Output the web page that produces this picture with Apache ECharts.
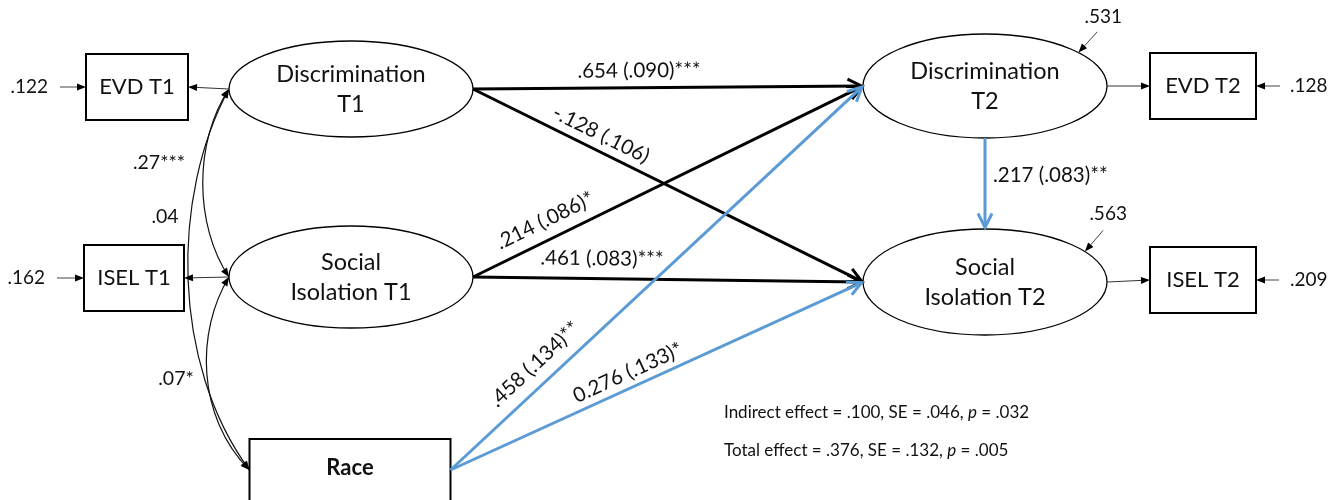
<!DOCTYPE html>
<html>
<head>
<meta charset="utf-8">
<title>Path model</title>
<script src="https://cdn.jsdelivr.net/npm/echarts@6/dist/echarts.min.js"></script>
<style>
  html, body { margin: 0; padding: 0; background: #fff; }
  #chart { width: 1343px; height: 500px; }
</style>
</head>
<body>
<div id="chart"></div>
<script>
// ---- Model variables ----
const nodeIds = ['evd1', 'disc1', 'isel1', 'si1', 'race', 'disc2', 'si2', 'evd2', 'isel2'];
const nodeLabels = ['EVD T1', 'Discrimination\nT1', 'ISEL T1', 'Social\nIsolation T1', 'Race',
                    'Discrimination\nT2', 'Social\nIsolation T2', 'EVD T2', 'ISEL T2'];

// Structural paths: estimate (SE) with significance stars
const pathFrom = ['disc1', 'disc1', 'si1', 'si1', 'race', 'race', 'disc2'];
const pathTo = ['disc2', 'si2', 'disc2', 'si2', 'disc2', 'si2', 'si2'];
const pathEstimates = ['.654 (.090)***', '-.128 (.106)', '.214 (.086)*', '.461 (.083)***',
                       '.458 (.134)**', '0.276 (.133)*', '.217 (.083)**'];

// Measurement paths (latent -> indicator)
const loadFrom = ['disc1', 'si1', 'disc2', 'si2'];
const loadTo = ['evd1', 'isel1', 'evd2', 'isel2'];

// Covariances among T1 variables
const covFrom = ['disc1', 'disc1', 'si1'];
const covTo = ['si1', 'race', 'race'];
const covEstimates = ['.27***', '.04', '.07*'];

// Residual variances
const residNodes = ['evd1', 'isel1', 'evd2', 'isel2', 'disc2', 'si2'];
const residValues = ['.122', '.162', '.128', '.209', '.531', '.563'];

// Mediation summary
const effectNames = ['Indirect effect', 'Total effect'];
const effectEst = ['.100', '.376'];
const effectSE = ['.046', '.132'];
const effectP = ['.032', '.005'];

// ---- Layout and styling ----
const FONT = 'Lato, "Open Sans", sans-serif';
const BLACK = '#000';
const BLUE = '#5b9bd5';
const TEXT = '#111';

const layout = {
  nodes: {
    evd1:  { shape: 'rect',    cx: 137,  cy: 87,  w: 102, h: 66 },
    disc1: { shape: 'ellipse', cx: 351,  cy: 89,  w: 244, h: 96 },
    isel1: { shape: 'rect',    cx: 134,  cy: 278, w: 100, h: 66 },
    si1:   { shape: 'ellipse', cx: 351,  cy: 277, w: 244, h: 102 },
    race:  { shape: 'rect',    cx: 350,  cy: 470, w: 201, h: 62, bold: true, labelDy: -2 },
    disc2: { shape: 'ellipse', cx: 985,  cy: 86,  w: 244, h: 104 },
    si2:   { shape: 'ellipse', cx: 985,  cy: 282, w: 244, h: 106 },
    evd2:  { shape: 'rect',    cx: 1203, cy: 86,  w: 106, h: 66 },
    isel2: { shape: 'rect',    cx: 1203, cy: 280, w: 106, h: 66 }
  },
  pathSides: [['right', 'left'], ['right', 'left'], ['right', 'left'], ['right', 'left'],
              ['right', 'left'], ['right', 'left'], ['bottom', 'top']],
  pathColor: [BLACK, BLACK, BLACK, BLACK, BLUE, BLUE, BLUE],
  pathLabelAt: [0.426, 0.31, 0.206, 0.33, 0.237, 0.445, 0.41],
  pathLabelOffset: [17, 16, 19, 20, 20, 15, 8],
  covBend: [-35, -58, -33],
  covLabel: [[159, 163], [165, 217], [176, 379]],
  resid: [
    { side: 'left', len: 26, gap: 12 },
    { side: 'left', len: 27, gap: 12 },
    { side: 'right', len: 24, gap: 10 },
    { side: 'right', len: 23, gap: 11 },
    { side: 'ellipse', angle: 40, dir: [19, -21], len: 28, text: [6, -15] },
    { side: 'ellipse', angle: 35, dir: [18, -21], len: 28, text: [5, -16] }
  ],
  effects: { x: 724, y: 413, gap: 38 }
};

function anchor(id, side) {
  const n = layout.nodes[id];
  if (side === 'left') return [n.cx - n.w / 2, n.cy];
  if (side === 'right') return [n.cx + n.w / 2, n.cy];
  if (side === 'top') return [n.cx, n.cy - n.h / 2];
  return [n.cx, n.cy + n.h / 2];
}

function unit(from, to) {
  const dx = to[0] - from[0], dy = to[1] - from[1];
  const L = Math.hypot(dx, dy) || 1;
  return [dx / L, dy / L];
}

// Open "V" arrowhead at tip, u = direction of travel
function openHead(tip, u, len, half) {
  const bx = tip[0] - u[0] * len, by = tip[1] - u[1] * len;
  return [[bx - u[1] * half, by + u[0] * half], tip, [bx + u[1] * half, by - u[0] * half]];
}

// Filled small triangle arrowhead
function filledHead(tip, u, len, half, color) {
  const bx = tip[0] - u[0] * len, by = tip[1] - u[1] * len;
  return {
    type: 'polygon',
    shape: { points: [tip, [bx - u[1] * half, by + u[0] * half], [bx + u[1] * half, by - u[0] * half]] },
    style: { fill: color, stroke: null }
  };
}

function textEl(x, y, text, opts) {
  return {
    type: 'text', x: x, y: y, rotation: opts.rotation || 0,
    style: Object.assign({
      text: text, fill: TEXT, fontFamily: FONT, fontSize: 20.5,
      align: 'center', verticalAlign: 'middle'
    }, opts.style || {})
  };
}

function renderNode(params, api) {
  const i = params.dataIndex;
  const n = layout.nodes[nodeIds[i]];
  const c = api.coord([n.cx, n.cy]);
  const children = [];
  if (n.shape === 'ellipse') {
    children.push({
      type: 'ellipse', shape: { cx: c[0], cy: c[1], rx: n.w / 2, ry: n.h / 2 },
      style: { fill: '#fff', stroke: BLACK, lineWidth: 1.3 }
    });
    children.push(textEl(c[0], c[1], nodeLabels[i], { style: { fontSize: 23.5, lineHeight: 30 } }));
  } else {
    children.push({
      type: 'rect', shape: { x: c[0] - n.w / 2, y: c[1] - n.h / 2, width: n.w, height: n.h },
      style: { fill: '#fff', stroke: BLACK, lineWidth: 2 }
    });
    children.push(textEl(c[0], c[1] + (n.labelDy || 0), nodeLabels[i],
      { style: { fontSize: 22, fontWeight: n.bold ? 'bold' : 'normal' } }));
  }
  return { type: 'group', children: children };
}

function renderPath(params, api) {
  const i = params.dataIndex;
  const sides = layout.pathSides[i];
  const a = api.coord(anchor(pathFrom[i], sides[0]));
  const b = api.coord(anchor(pathTo[i], sides[1]));
  const col = layout.pathColor[i];
  const u = unit(a, b);
  const dx = b[0] - a[0], dy = b[1] - a[1];
  const t = layout.pathLabelAt[i], off = layout.pathLabelOffset[i];
  let label;
  if (Math.abs(u[0]) < 0.01) {
    label = textEl(a[0] + off, a[1] + t * dy, pathEstimates[i], { style: { align: 'left' } });
  } else {
    const nrm = [u[1], -u[0]];
    label = textEl(a[0] + t * dx + off * nrm[0], a[1] + t * dy + off * nrm[1], pathEstimates[i],
      { rotation: Math.atan2(-dy, dx) });
  }
  return {
    type: 'group',
    children: [
      { type: 'line', shape: { x1: a[0], y1: a[1], x2: b[0] - u[0] * 2, y2: b[1] - u[1] * 2 },
        style: { stroke: col, lineWidth: 3 } },
      { type: 'polyline', shape: { points: openHead([b[0] - u[0] * 1.5, b[1] - u[1] * 1.5], u, 14, 7) },
        style: { stroke: col, lineWidth: 3, fill: null, lineJoin: 'miter' } },
      label
    ]
  };
}

function renderLoading(params, api) {
  const i = params.dataIndex;
  const src = layout.nodes[loadFrom[i]], dst = layout.nodes[loadTo[i]];
  const toLeft = dst.cx < src.cx;
  const a = api.coord(anchor(loadFrom[i], toLeft ? 'left' : 'right'));
  const b = api.coord(anchor(loadTo[i], toLeft ? 'right' : 'left'));
  const u = unit(a, b);
  return {
    type: 'group',
    children: [
      { type: 'line', shape: { x1: a[0], y1: a[1], x2: b[0] - u[0] * 6, y2: b[1] - u[1] * 6 },
        style: { stroke: '#333', lineWidth: 1 } },
      filledHead(b, u, 9, 3.5, '#000')
    ]
  };
}

function renderCov(params, api) {
  const i = params.dataIndex;
  const p0 = api.coord(anchor(covFrom[i], 'left'));
  const p3 = api.coord(anchor(covTo[i], 'left'));
  const cx = Math.min(p0[0], p3[0]) + layout.covBend[i];
  const dy = p3[1] - p0[1];
  const c1 = [cx, p0[1] + 0.28 * dy], c2 = [cx, p0[1] + 0.72 * dy];
  const lp = api.coord(layout.covLabel[i]);
  return {
    type: 'group',
    children: [
      { type: 'bezierCurve',
        shape: { x1: p0[0], y1: p0[1], x2: p3[0], y2: p3[1], cpx1: c1[0], cpy1: c1[1], cpx2: c2[0], cpy2: c2[1] },
        style: { stroke: '#111', lineWidth: 1.2, fill: null } },
      filledHead(p0, unit(c1, p0), 9, 3.5, '#000'),
      filledHead(p3, unit(c2, p3), 9, 3.5, '#000'),
      textEl(lp[0], lp[1], covEstimates[i], { style: { fontSize: 19.5 } })
    ]
  };
}

function renderResid(params, api) {
  const i = params.dataIndex;
  const r = layout.resid[i];
  const id = residNodes[i];
  const n = layout.nodes[id];
  let tip, start, tp, align;
  if (r.side === 'left') {
    tip = anchor(id, 'left'); start = [tip[0] - r.len, tip[1]];
    tp = [start[0] - r.gap, tip[1]]; align = 'right';
  } else if (r.side === 'right') {
    tip = anchor(id, 'right'); start = [tip[0] + r.len, tip[1]];
    tp = [start[0] + r.gap, tip[1]]; align = 'left';
  } else {
    const th = r.angle * Math.PI / 180;
    tip = [n.cx + n.w / 2 * Math.cos(th), n.cy - n.h / 2 * Math.sin(th)];
    const dl = Math.hypot(r.dir[0], r.dir[1]);
    start = [tip[0] + r.dir[0] / dl * r.len, tip[1] + r.dir[1] / dl * r.len];
    tp = [start[0] + r.text[0], start[1] + r.text[1]]; align = 'center';
  }
  const a = api.coord(start), b = api.coord(tip), t = api.coord(tp);
  const u = unit(a, b);
  return {
    type: 'group',
    children: [
      { type: 'line', shape: { x1: a[0], y1: a[1], x2: b[0] - u[0] * 6, y2: b[1] - u[1] * 6 },
        style: { stroke: '#444', lineWidth: 1 } },
      filledHead(b, u, 9, 3.5, '#000'),
      textEl(t[0], t[1], residValues[i], { style: { fontSize: 19, align: align } })
    ]
  };
}

function renderEffect(params, api) {
  const i = params.dataIndex;
  const e = layout.effects;
  const p = api.coord([e.x, e.y + i * e.gap]);
  const text = effectNames[i] + ' = ' + effectEst[i] + ', SE = ' + effectSE[i] + ', {i|p} = ' + effectP[i];
  return textEl(p[0], p[1], text, {
    style: { fontSize: 17, align: 'left', rich: { i: { fontStyle: 'italic', fontSize: 17, fontFamily: FONT, fill: TEXT } } }
  });
}

function idx(arr) { return arr.map(function (_, i) { return [i, 0]; }); }

const chart = echarts.init(document.getElementById('chart'), null, { renderer: 'canvas' });
chart.setOption({
  animation: false,
  backgroundColor: '#fff',
  grid: { left: 0, right: 0, top: 0, bottom: 0 },
  xAxis: { type: 'value', min: 0, max: 1343, show: false },
  yAxis: { type: 'value', min: 0, max: 500, inverse: true, show: false },
  series: [
    { type: 'custom', name: 'covariances', renderItem: renderCov, data: idx(covFrom), silent: true },
    { type: 'custom', name: 'variables', renderItem: renderNode, data: idx(nodeIds), silent: true },
    { type: 'custom', name: 'loadings', renderItem: renderLoading, data: idx(loadFrom), silent: true },
    { type: 'custom', name: 'residuals', renderItem: renderResid, data: idx(residNodes), silent: true },
    { type: 'custom', name: 'paths', renderItem: renderPath, data: idx(pathFrom), silent: true },
    { type: 'custom', name: 'effects', renderItem: renderEffect, data: idx(effectNames), silent: true }
  ]
});
</script>
</body>
</html>
